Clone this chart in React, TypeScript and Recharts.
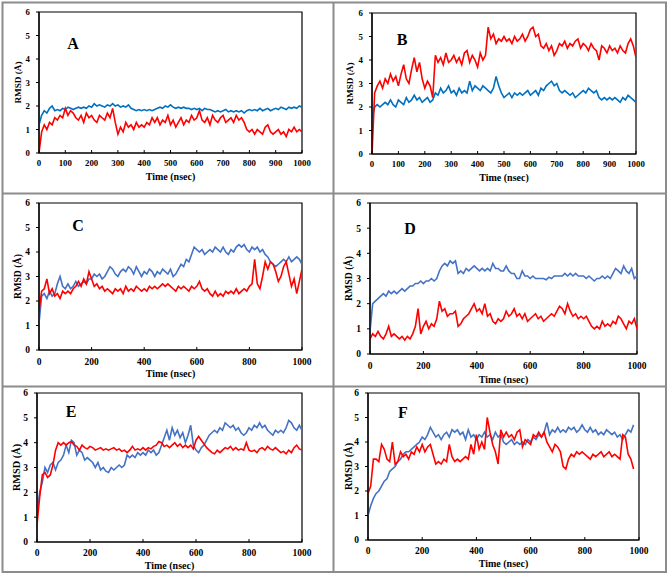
import React from 'react';
import { LineChart, Line, XAxis, YAxis, ReferenceArea } from 'recharts';

const FONT = "'Liberation Serif', 'Times New Roman', serif";

const TIME = [
  0, 10, 20, 30, 40, 50, 60, 70, 80, 90,
  100, 110, 120, 130, 140, 150, 160, 170, 180, 190,
  200, 210, 220, 230, 240, 250, 260, 270, 280, 290,
  300, 310, 320, 330, 340, 350, 360, 370, 380, 390,
  400, 410, 420, 430, 440, 450, 460, 470, 480, 490,
  500, 510, 520, 530, 540, 550, 560, 570, 580, 590,
  600, 610, 620, 630, 640, 650, 660, 670, 680, 690,
  700, 710, 720, 730, 740, 750, 760, 770, 780, 790,
  800, 810, 820, 830, 840, 850, 860, 870, 880, 890,
  900, 910, 920, 930, 940, 950, 960, 970, 980, 990,
  1000,
];

const TIME_F = [
  0, 10, 20, 30, 40, 50, 60, 70, 80, 90,
  100, 110, 120, 130, 140, 150, 160, 170, 180, 190,
  200, 210, 220, 230, 240, 250, 260, 270, 280, 290,
  300, 310, 320, 330, 340, 350, 360, 370, 380, 390,
  400, 410, 420, 430, 440, 450, 460, 470, 480, 490,
  500, 510, 520, 530, 540, 550, 560, 570, 580, 590,
  600, 610, 620, 630, 640, 650, 660, 670, 680, 690,
  700, 710, 720, 730, 740, 750, 760, 770, 780, 790,
  800, 810, 820, 830, 840, 850, 860, 870, 880, 890,
  900, 910, 920, 930, 940, 950, 960, 970, 980,
];

const X_TICKS_100 = [0, 100, 200, 300, 400, 500, 600, 700, 800, 900, 1000];
const X_TICKS_200 = [0, 200, 400, 600, 800, 1000];
const Y_TICKS = [0, 1, 2, 3, 4, 5, 6];

const A_RED = [
  0, 0.9, 1.2, 1.0, 1.3, 1.2, 1.5, 1.4, 1.6, 1.5,
  1.9, 1.6, 1.8, 1.7, 1.5, 1.4, 1.6, 1.3, 1.7, 1.5,
  1.6, 1.4, 1.3, 1.6, 1.5, 1.4, 1.7, 1.5, 1.9, 1.3,
  0.8, 1.1, 0.9, 1.3, 1.1, 1.2, 1.0, 1.3, 1.1, 1.2,
  1.1, 1.3, 1.2, 1.5, 1.3, 1.5, 1.2, 1.4, 1.3, 1.6,
  1.2, 1.4, 1.1, 1.3, 1.5, 1.2, 1.4, 1.3, 1.6, 1.4,
  1.5, 1.8, 1.4, 1.3, 1.5, 1.2, 1.6, 1.4, 1.3, 1.5,
  1.6, 1.3, 1.4, 1.5, 1.3, 1.6, 1.4, 1.5, 1.3, 1.0,
  0.9, 1.0, 0.8, 1.0, 0.9, 0.8, 1.1, 1.2, 0.9, 0.8,
  0.9, 1.0, 0.8, 0.9, 0.7, 1.0, 0.9, 1.1, 0.9, 1.0,
  0.9,
];
const A_BLUE = [
  1.2, 1.6, 1.8, 1.7, 1.9, 2.0, 1.8, 1.85, 1.8, 1.9,
  1.85, 1.95, 1.9, 1.85, 1.9, 1.95, 1.9, 1.95, 1.9, 2.0,
  1.95, 2.1, 2.0, 2.05, 2.0, 1.95, 2.05, 2.0, 2.1, 2.0,
  2.05, 1.95, 2.0, 1.95, 2.05, 1.9, 1.85, 1.8, 1.85, 1.8,
  1.85, 1.8, 1.85, 1.8, 1.85, 1.9, 1.95, 1.9, 2.0, 1.95,
  2.05, 1.95, 1.9, 1.95, 1.9, 1.95, 1.9, 1.9, 1.85, 1.9,
  1.85, 1.9, 1.8, 1.9, 1.85, 1.85, 1.8, 1.75, 1.8, 1.75,
  1.8, 1.85, 1.75, 1.8, 1.75, 1.8, 1.75, 1.8, 1.7, 1.8,
  1.85, 1.8, 1.85, 1.8, 1.9, 1.8, 1.85, 1.9, 1.8, 1.85,
  1.9, 1.85, 1.95, 1.9, 1.85, 1.95, 1.9, 1.95, 1.9, 2.0,
  1.95,
];

const B_RED = [
  0, 2.6, 2.9, 3.1, 2.8, 3.2, 3.0, 3.4, 3.1, 3.3,
  2.9, 3.4, 3.8, 3.2, 3.0, 3.6, 4.1, 3.5, 3.9, 3.2,
  2.8, 3.1, 2.9, 2.4, 4.2, 3.9, 4.1, 3.8, 4.3, 3.9,
  4.0, 4.2, 3.9, 4.1, 3.8, 4.3, 4.4, 3.9, 4.2, 4.0,
  3.7, 4.3, 4.0, 4.2, 5.4, 4.9, 5.1, 4.7, 4.9, 4.8,
  5.0, 4.8, 4.9, 4.7, 5.0, 4.8, 4.9, 5.1, 4.8, 5.0,
  5.3, 5.4, 5.0, 5.1, 4.6, 4.5, 4.7, 4.4, 4.6, 4.2,
  4.4, 4.7, 4.6, 4.8, 4.5, 4.7, 4.6, 4.8, 4.9, 4.5,
  4.7, 4.6, 4.4, 4.7, 4.5, 4.4, 4.0, 4.6, 4.5, 4.3,
  4.6, 4.4, 4.5, 4.3, 4.6, 4.4, 4.3, 4.7, 4.9, 4.6,
  4.1,
];
const B_BLUE = [
  1.5, 2.0, 2.1, 2.0, 2.1, 2.2, 2.1, 2.3, 2.1, 2.0,
  2.3, 2.2, 2.1, 2.4, 2.2, 2.3, 2.5, 2.3, 2.4, 2.2,
  2.3, 2.4, 2.2, 2.3, 2.6, 2.5, 2.8, 2.6, 2.7, 2.9,
  2.6, 2.7, 2.5, 2.8, 2.6, 2.7, 2.6, 3.1, 2.7, 2.9,
  2.8, 2.7, 2.9, 2.8, 2.7, 2.6, 2.8, 3.3, 2.9, 2.6,
  2.4, 2.5, 2.6, 2.4, 2.6, 2.5, 2.6, 2.5, 2.6, 2.7,
  2.5, 2.6, 2.7, 2.5, 2.8, 2.7, 2.9, 3.0, 3.1, 2.9,
  3.0, 2.7, 2.6, 2.7, 2.6, 2.5, 2.6, 2.4, 2.5, 2.6,
  2.7, 2.6, 2.8, 2.7, 2.6, 2.7, 2.4, 2.3, 2.4, 2.3,
  2.4, 2.3, 2.4, 2.3, 2.2, 2.4, 2.3, 2.5, 2.4, 2.3,
  2.2,
];

const C_RED = [
  1.6, 2.4, 2.5, 2.9, 2.3, 2.5, 2.2, 2.3, 2.1, 2.4,
  2.3, 2.4, 2.3, 2.5, 2.6, 2.8, 2.6, 2.9, 2.7, 3.2,
  2.9, 2.6, 2.7, 2.5, 2.6, 2.4, 2.5, 2.4, 2.3, 2.5,
  2.4, 2.5, 2.3, 2.6, 2.4, 2.5, 2.4, 2.6, 2.5, 2.4,
  2.5, 2.4, 2.6, 2.5, 2.6, 2.5, 2.6, 2.7, 2.6, 2.7,
  2.6, 2.5, 2.4, 2.6, 2.5, 2.6, 2.5, 2.4, 2.6, 2.5,
  2.6, 2.8, 2.5, 2.4, 2.5, 2.3, 2.2, 2.4, 2.2, 2.3,
  2.2, 2.4, 2.3, 2.4, 2.3, 2.5, 2.3, 2.4, 2.5, 2.4,
  2.6, 2.7, 3.7, 2.7, 2.5, 3.0, 3.6, 3.3, 3.6, 3.5,
  3.2, 2.8, 3.0, 3.4, 3.6, 3.1, 2.6, 2.9, 2.3, 2.8,
  3.3,
];
const C_BLUE = [
  1.1, 2.2, 2.3, 2.1, 2.4, 2.2, 2.3, 2.7, 3.0, 2.6,
  2.5, 2.7, 2.5, 2.6, 2.8, 2.6, 2.7, 2.8, 2.7, 2.9,
  2.9, 3.1, 3.0, 3.1, 2.9, 3.0, 3.2, 3.4, 3.3, 3.1,
  3.0, 3.2, 3.3, 3.2, 3.4, 3.3, 3.1, 3.4, 3.2, 3.0,
  3.2, 3.1, 3.3, 3.2, 3.0, 3.2, 3.1, 3.3, 3.2, 3.1,
  3.3, 3.0, 3.1, 3.3, 3.5, 3.4, 3.7, 3.6, 3.9, 4.2,
  4.1, 4.0, 4.1, 3.9, 4.0, 4.1, 4.0, 4.2, 4.1, 4.0,
  4.2, 4.0, 3.9, 4.1, 4.0, 4.2, 4.3, 4.2, 4.3, 4.1,
  4.0, 4.2, 4.1, 4.2, 4.0, 4.1, 3.9, 3.8, 3.6, 3.5,
  3.4, 3.5, 3.6, 3.7, 3.6, 3.8, 3.6, 3.7, 3.8, 3.7,
  3.5,
];

const D_RED = [
  0.6, 0.8, 0.7, 0.9, 0.7, 0.6, 0.8, 1.1, 0.7, 0.8,
  0.7, 0.6, 0.7, 0.55, 0.7, 0.6, 0.8, 1.1, 1.8, 0.8,
  1.1, 1.3, 1.0, 1.2, 1.1, 1.4, 2.1, 1.7, 1.8, 1.5,
  1.6, 1.6, 1.7, 1.1, 1.2, 1.4, 1.5, 1.6, 1.8, 2.0,
  1.7, 1.8, 1.6, 2.0, 1.5, 1.6, 1.3, 1.2, 1.4, 1.3,
  1.4, 1.7, 1.5, 1.6, 1.8, 1.5, 1.6, 1.4, 1.6, 1.3,
  1.4, 1.5, 1.6, 1.4, 1.5, 1.3, 1.4, 1.5, 1.6, 1.5,
  1.7, 1.9, 1.8, 1.6, 2.0, 1.7, 1.5, 1.6, 1.4, 1.5,
  1.4, 1.5, 1.3, 1.1, 1.0, 1.1, 1.0, 1.3, 1.1, 1.2,
  1.1, 1.3, 1.2, 1.5, 1.4, 1.2, 1.0, 1.3, 1.2, 1.4,
  1.0,
];
const D_BLUE = [
  0.9, 2.0, 2.1, 2.2, 2.3, 2.4, 2.3, 2.5, 2.4, 2.5,
  2.4, 2.5, 2.6, 2.5, 2.6, 2.7, 2.7, 2.8, 2.8, 2.9,
  2.8, 2.9, 2.9, 3.0, 2.9, 3.0, 3.3, 3.5, 3.6, 3.5,
  3.7, 3.6, 3.7, 3.2, 3.3, 3.2, 3.4, 3.3, 3.4, 3.5,
  3.4, 3.3, 3.4, 3.3, 3.4, 3.3, 3.6, 3.4, 3.4, 3.3,
  3.3, 3.5, 3.3, 3.2, 3.2, 3.0, 3.0, 3.3, 3.1, 3.1,
  3.0, 3.1, 3.0, 3.0, 3.0, 3.0, 2.95, 3.05, 3.0, 3.1,
  3.1, 3.1, 3.1, 3.2, 3.1, 3.2, 3.1, 3.2, 3.1, 3.1,
  3.1, 3.0, 3.1, 3.0, 2.9, 3.0, 3.0, 3.1, 3.0, 3.1,
  3.0, 3.2, 3.4, 3.3, 3.2, 3.5, 3.3, 3.2, 3.4, 3.0,
  3.1,
];

const E_RED = [
  0.7, 1.8, 2.7, 2.8, 2.6, 2.7, 3.1, 3.7, 4.0, 3.9,
  4.0, 3.9, 4.0, 4.05, 3.9, 3.85, 3.7, 3.9, 3.8, 3.75,
  3.85, 3.8, 3.7, 3.75, 3.8, 3.7, 3.75, 3.7, 3.75, 3.8,
  3.7, 3.75, 3.65, 3.7, 3.6, 3.7, 3.85, 3.7, 3.75, 3.7,
  3.8, 3.7, 3.8, 3.75, 3.85, 3.9, 4.05, 4.0, 3.85, 3.9,
  3.8, 3.9, 4.0, 3.85, 3.95, 3.8, 3.9, 3.8, 3.9, 3.75,
  4.1, 4.25, 4.1, 3.95, 3.8, 3.7, 3.6, 3.55, 3.7, 3.6,
  3.7, 3.8, 3.75, 3.85, 3.7, 3.8, 3.7, 3.75, 3.7, 4.0,
  3.7, 3.65, 3.7, 3.6, 3.75, 3.8, 3.7, 3.85, 3.75, 3.7,
  3.8, 3.7, 3.6, 3.65, 3.55, 3.7, 3.6, 3.8, 3.9, 3.75,
  3.7,
];
const E_BLUE = [
  1.1, 2.0, 2.4, 3.0, 2.8, 3.1, 3.2, 2.9, 3.2, 3.3,
  3.5, 3.9, 3.6, 4.1, 4.0, 3.5, 3.7, 3.6, 3.3, 3.4,
  3.3, 3.2, 3.0, 3.2, 2.9, 3.0, 2.85, 2.8, 3.0, 2.9,
  3.0, 3.1, 3.0, 3.1, 3.5, 3.4, 3.5, 3.4, 3.6, 3.5,
  3.6, 3.5, 3.7, 3.6, 3.7, 3.5, 3.6, 3.9, 4.2, 4.5,
  4.1, 4.6, 4.3, 4.5, 4.2, 4.4, 4.0, 4.3, 4.7, 3.9,
  3.7, 3.6, 3.8, 3.9, 4.1, 4.3, 4.4, 4.5, 4.4, 4.6,
  4.5, 4.8, 4.7, 4.6, 4.7, 4.5, 4.6, 4.4, 4.3, 4.4,
  4.6, 4.5, 4.7, 4.6, 4.8, 4.6, 4.7, 4.5, 4.4, 4.3,
  4.5, 4.4, 4.5, 4.4, 4.6, 4.9, 4.8, 4.6, 4.5, 4.7,
  4.5,
];

const F_RED = [
  1.9, 2.2, 3.3, 3.3, 3.2, 3.9, 3.7, 3.3, 3.2, 4.0,
  3.1, 3.2, 3.6, 3.4, 3.5, 3.3, 3.6, 3.5, 3.8, 3.6,
  3.9, 3.6, 3.8, 3.9, 3.5, 3.1, 3.2, 3.1, 3.3, 3.2,
  3.9, 3.4, 3.2, 3.3, 3.2, 3.3, 3.4, 3.3, 3.9, 3.5,
  4.3, 3.7, 4.0, 3.7, 5.0, 4.4, 3.9, 3.6, 3.1, 4.5,
  4.2, 4.4, 4.2, 4.3, 4.1, 4.4, 4.5, 3.8, 4.1, 4.0,
  3.9, 4.3, 4.2, 4.4, 4.2, 4.4, 4.0, 3.8, 3.6, 3.9,
  3.8, 3.6, 3.0, 2.9, 3.3, 3.5, 3.4, 3.6, 3.5, 3.6,
  3.5, 3.4, 3.3, 3.5, 3.4, 3.5, 3.6, 3.4, 3.5, 3.6,
  3.4, 3.5, 3.4, 3.3, 4.3, 4.2, 3.5, 3.3, 2.9,
];
const F_BLUE = [
  1.0, 1.4, 1.7, 1.9, 2.0, 2.2, 2.4, 2.5, 2.8, 2.9,
  3.0, 3.2, 3.3, 3.5, 3.6, 3.6, 3.7, 3.8, 3.9, 4.0,
  4.2, 4.1, 4.3, 4.6, 4.4, 4.2, 4.3, 4.1, 4.3, 4.4,
  4.2, 4.5, 4.4, 4.5, 4.3, 4.4, 4.1, 4.5, 4.2, 4.3,
  4.1, 4.3, 4.2, 4.4, 4.2, 4.3, 4.1, 4.4, 4.2, 4.3,
  4.0, 3.9, 4.0, 4.1, 3.9, 4.0, 3.9, 4.0, 3.9, 4.1,
  4.0, 4.2, 4.1, 4.3, 4.2, 4.4, 4.8, 4.3, 4.5, 4.4,
  4.6, 4.4, 4.5, 4.4, 4.6, 4.5, 4.6, 4.4, 4.5, 4.7,
  4.5, 4.4, 4.6, 4.4, 4.5, 4.3, 4.4, 4.3, 4.5, 4.4,
  4.3, 4.4, 4.2, 4.3, 4.1, 4.3, 4.5, 4.4, 4.7,
];

const LETTERS = ['A', 'B', 'C', 'D', 'E', 'F'];

const RED = '#FF0000';
const BLUE_DARK = '#0070C0';
const BLUE_LIGHT = '#4472C4';

type Geo = {
  x: number; y: number; w: number; h: number;
  L: number; R: number; T: number; B: number;
  tickMargin: number; tickFont: number; titleFont: number; ylabFont: number;
  titleY: number; ylabX: number; letterX: number; letterY: number;
};

const GEOS: Geo[] = [
  { x: 0, y: 0, w: 333, h: 193, L: 39, R: 302, T: 12, B: 153, tickMargin: 4, tickFont: 8.8, titleFont: 10, ylabFont: 9.2, titleY: 176.7, ylabX: 18.3, letterX: 73, letterY: 43 },
  { x: 333, y: 0, w: 336, h: 193, L: 372, R: 636, T: 13, B: 154, tickMargin: 4, tickFont: 8.8, titleFont: 10, ylabFont: 9.2, titleY: 177.7, ylabX: 350.3, letterX: 402, letterY: 39 },
  { x: 0, y: 193, w: 333, h: 193, L: 39, R: 302, T: 203, B: 350, tickMargin: 5, tickFont: 9.5, titleFont: 10, ylabFont: 9.8, titleY: 373.3, ylabX: 17.3, letterX: 78, letterY: 225 },
  { x: 333, y: 193, w: 336, h: 193, L: 370, R: 637, T: 203, B: 354, tickMargin: 5.5, tickFont: 9.5, titleFont: 10, ylabFont: 9.8, titleY: 379, ylabX: 348, letterX: 410, letterY: 228 },
  { x: 0, y: 386, w: 333, h: 189, L: 37, R: 302, T: 393, B: 542, tickMargin: 4, tickFont: 9.5, titleFont: 10, ylabFont: 10.3, titleY: 565.7, ylabX: 16, letterX: 71, letterY: 411 },
  { x: 333, y: 386, w: 336, h: 189, L: 368, R: 639, T: 393, B: 540, tickMargin: 4, tickFont: 9.5, titleFont: 10, ylabFont: 10.3, titleY: 563.3, ylabX: 348, letterX: 403, letterY: 412 },
];

function buildRows(time: number[], red: number[], blue: number[]) {
  return time.map((t, i) => ({ t, red: red[i], blue: blue[i] }));
}

const PANELS = [
  { rows: buildRows(TIME, A_RED, A_BLUE), xTicks: X_TICKS_100, blue: BLUE_DARK },
  { rows: buildRows(TIME, B_RED, B_BLUE), xTicks: X_TICKS_100, blue: BLUE_DARK },
  { rows: buildRows(TIME, C_RED, C_BLUE), xTicks: X_TICKS_200, blue: BLUE_LIGHT },
  { rows: buildRows(TIME, D_RED, D_BLUE), xTicks: X_TICKS_200, blue: BLUE_LIGHT },
  { rows: buildRows(TIME, E_RED, E_BLUE), xTicks: X_TICKS_200, blue: BLUE_LIGHT },
  { rows: buildRows(TIME_F, F_RED, F_BLUE), xTicks: X_TICKS_200, blue: BLUE_LIGHT },
];

function Panel({ g, rows, xTicks, blue }: { g: Geo; rows: any[]; xTicks: number[]; blue: string }) {
  const tickStyle = { fontSize: g.tickFont, fontWeight: 700, fill: '#000', fontFamily: FONT };
  const xTitleX = (g.L + g.R) / 2 - g.x;
  const xTitleY = g.titleY - g.y;
  const yTitleX = g.ylabX - g.x;
  const yTitleY = (g.T + g.B) / 2 - g.y;
  return (
    <div style={{ position: 'absolute', left: g.x, top: g.y, width: g.w, height: g.h }}>
      <LineChart
        width={g.w}
        height={g.h}
        data={rows}
        margin={{ top: g.T - g.y, right: g.x + g.w - g.R, bottom: 0, left: 0 }}
      >
        <XAxis
          dataKey="t"
          type="number"
          domain={[0, 1000]}
          ticks={xTicks}
          interval={0}
          allowDataOverflow
          height={g.y + g.h - g.B}
          tickSize={-3}
          tickMargin={g.tickMargin + 6}
          tick={tickStyle}
          axisLine={{ stroke: '#000', strokeWidth: 1.2 }}
          tickLine={{ stroke: '#000' }}
          label={{
            content: () => (
              <text x={xTitleX} y={xTitleY} textAnchor="middle" dominantBaseline="central"
                fontFamily={FONT} fontWeight={700} fontSize={g.titleFont} fill="#000">
                Time (nsec)
              </text>
            ),
          }}
        />
        <YAxis
          type="number"
          domain={[0, 6]}
          ticks={Y_TICKS}
          interval={0}
          allowDataOverflow
          width={g.L - g.x}
          tickSize={3}
          tickMargin={6}
          tick={tickStyle}
          axisLine={{ stroke: '#000', strokeWidth: 1.2 }}
          tickLine={{ stroke: '#000' }}
          label={{
            content: () => (
              <text x={yTitleX} y={yTitleY} textAnchor="middle" dominantBaseline="central"
                transform={`rotate(-90 ${yTitleX} ${yTitleY})`}
                fontFamily={FONT} fontWeight={700} fontSize={g.ylabFont} fill="#000">
                RMSD (Å)
              </text>
            ),
          }}
        />
        <ReferenceArea x1={0} x2={1000} y1={0} y2={6} fill="none" stroke="#000" strokeWidth={1.2} ifOverflow="visible" />
        <Line type="linear" dataKey="blue" stroke={blue} strokeWidth={1.6} dot={false} isAnimationActive={false} />
        <Line type="linear" dataKey="red" stroke={RED} strokeWidth={1.6} dot={false} isAnimationActive={false} />
      </LineChart>
    </div>
  );
}

export default function App() {
  return (
    <div style={{ position: 'absolute', left: 0, top: 0, width: 669, height: 575, background: '#fff', overflow: 'hidden' }}>
      {PANELS.map((p, i) => (
        <Panel key={i} g={GEOS[i]} rows={p.rows} xTicks={p.xTicks} blue={p.blue} />
      ))}
      <svg width={669} height={575} style={{ position: 'absolute', left: 0, top: 0, pointerEvents: 'none' }}>
        <rect x={2.5} y={2.5} width={663.5} height={569.5} fill="none" stroke="#8c8c8c" strokeWidth={2} />
        <line x1={333.5} y1={2.5} x2={333.5} y2={572} stroke="#8c8c8c" strokeWidth={2} />
        <line x1={2.5} y1={193.5} x2={666} y2={193.5} stroke="#8c8c8c" strokeWidth={2} />
        <line x1={2.5} y1={386.5} x2={666} y2={386.5} stroke="#8c8c8c" strokeWidth={2} />
        {GEOS.map((g, i) => (
          <text key={i} x={g.letterX} y={g.letterY} textAnchor="middle" dominantBaseline="central"
            fontFamily={FONT} fontWeight={700} fontSize={16} fill="#000">
            {LETTERS[i]}
          </text>
        ))}
      </svg>
    </div>
  );
}
